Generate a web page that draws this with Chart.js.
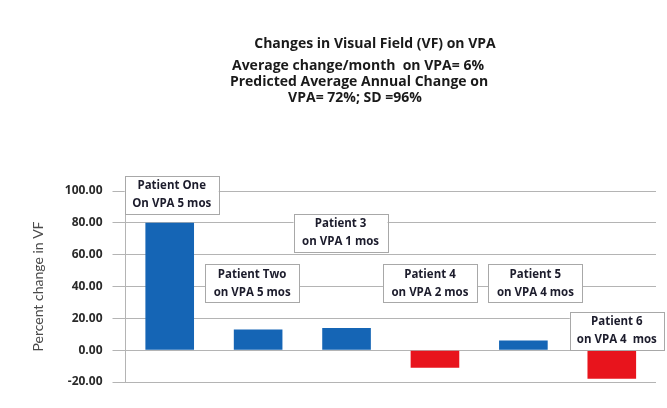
<!DOCTYPE html>
<html>
<head>
<meta charset="utf-8">
<script src="https://cdn.jsdelivr.net/npm/chart.js@4"></script>
<style>
  html, body { margin: 0; padding: 0; background: #fff; }
  #wrap { width: 667px; height: 408px; }
</style>
</head>
<body>
<div id="wrap"><canvas id="vfChart"></canvas></div>
<script>
const patients = ['Patient One', 'Patient Two', 'Patient 3', 'Patient 4', 'Patient 5', 'Patient 6'];
const monthsOnVpa = ['On VPA 5 mos', 'on VPA 5 mos', 'on VPA 1 mos', 'on VPA 2 mos', 'on VPA 4 mos', 'on VPA 4  mos'];
const vfChange = [80, 13, 14, -11, 6, -18];
const yTicks = [-20, 0, 20, 40, 60, 80, 100];
const titleLines = [
    'Changes in Visual Field (VF) on VPA',
    'Average change/month  on VPA= 6%',
    'Predicted Average Annual Change on',
    'VPA= 72%; SD =96%'
];

const FONT = 'Lato, "Liberation Sans", sans-serif';
const BOLD_FONT = '"Open Sans", "Liberation Sans", sans-serif';

// shaded fill so the bars look a bit like the 3d cylinders
function barFill(ctx) {
    const el = ctx.element;
    const v = ctx.raw;
    if (!el || el.x === undefined) return v < 0 ? '#e8141c' : '#1565b5';
    const half = el.width / 2;
    const g = ctx.chart.ctx.createLinearGradient(el.x - half, 0, el.x + half, 0);
    if (v < 0) {
        g.addColorStop(0, '#e0101a');
        g.addColorStop(0.6, '#ff1e24');
        g.addColorStop(1, '#a50c12');
    } else {
        g.addColorStop(0, '#0e5aa6');
        g.addColorStop(0.45, '#1b78cc');
        g.addColorStop(1, '#0a3f78');
    }
    return g;
}

const titleBlock = {
    id: 'titleBlock',
    afterDraw(chart) {
        const c = chart.ctx;
        const ys = [44, 66, 82, 98];
        const xs = [375, 358, 359, 355];
        c.save();
        c.fillStyle = '#1a1a1a';
        c.textAlign = 'center';
        c.textBaseline = 'middle';
        titleLines.forEach((t, i) => {
            c.font = 'bold 14px ' + BOLD_FONT;
            c.fillText(t, xs[i], ys[i]);
        });
        c.restore();
    }
};

// boxed callouts over each bar
const patientTags = {
    id: 'patientTags',
    afterDatasetsDraw(chart, args, opts) {
        const c = chart.ctx;
        const meta = chart.getDatasetMeta(0);
        const yScale = chart.scales.y;
        c.save();
        c.font = 'bold 11.5px ' + BOLD_FONT;
        c.textAlign = 'center';
        c.textBaseline = 'middle';
        meta.data.forEach((bar, i) => {
            const cx = bar.x + opts.dx[i];
            const cy = yScale.getPixelForValue(opts.at[i]);
            const w = 94, h = 38;
            c.fillStyle = '#fff';
            c.fillRect(cx - w / 2, cy - h / 2, w, h);
            c.strokeStyle = '#a8a8a8';
            c.lineWidth = 1;
            c.strokeRect(Math.round(cx - w / 2) + 0.5, Math.round(cy - h / 2) + 0.5, w, h);
            c.fillStyle = '#1c1c2c';
            c.fillText(patients[i], cx, cy - 9);
            c.fillText(monthsOnVpa[i], cx, cy + 9);
        });
        c.restore();
    }
};

new Chart(document.getElementById('vfChart'), {
    type: 'bar',
    data: {
        labels: patients,
        datasets: [{
            data: vfChange,
            backgroundColor: barFill,
            borderWidth: 0,
            categoryPercentage: 1,
            barPercentage: 0.55
        }]
    },
    options: {
        responsive: true,
        maintainAspectRatio: false,
        animation: false,
        layout: { padding: { top: 191, bottom: 26, right: 11, left: 0 } },
        plugins: {
            legend: { display: false },
            tooltip: { enabled: false },
            patientTags: {
                at: [97.5, 42, 73.5, 42, 42, 12],
                dx: [2, -6, -6, -5, 12, 5]
            }
        },
        scales: {
            x: { display: false },
            y: {
                min: yTicks[0],
                max: yTicks[yTicks.length - 1],
                afterFit(scale) { scale.width = 125.5; },
                ticks: {
                    stepSize: 20,
                    padding: 10,
                    color: '#2a2a2a',
                    font: { family: BOLD_FONT, size: 12, weight: 'bold' },
                    callback: v => Number(v).toFixed(2)
                },
                grid: { color: '#b4b4b4', tickLength: 13 },
                border: { color: '#b4b4b4' },
                title: {
                    display: true,
                    text: 'Percent change in VF',
                    color: '#4a4a4a',
                    font: { family: FONT, size: 14 },
                    padding: { top: 30, bottom: 0 }
                }
            }
        }
    },
    plugins: [titleBlock, patientTags]
});
</script>
</body>
</html>
